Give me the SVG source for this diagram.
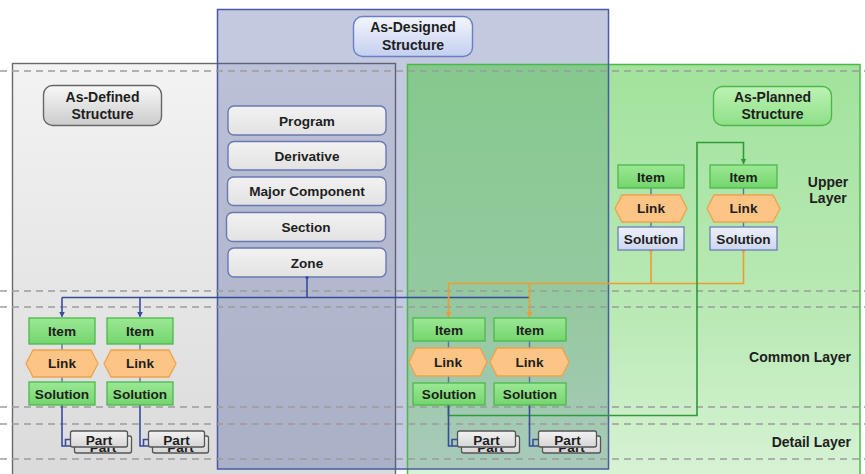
<svg xmlns="http://www.w3.org/2000/svg" width="865" height="474" viewBox="0 0 865 474">
  <defs>
    <linearGradient id="gPanelGray" x1="0" y1="0" x2="0" y2="1">
      <stop offset="0" stop-color="#f3f3f3"/>
      <stop offset="1" stop-color="#dadada"/>
    </linearGradient>
    <linearGradient id="gPanelGreen" x1="0" y1="0" x2="0" y2="1">
      <stop offset="0" stop-color="#4cc842" stop-opacity="0.52"/>
      <stop offset="0.6" stop-color="#52c947" stop-opacity="0.4"/>
      <stop offset="1" stop-color="#5ccc50" stop-opacity="0.24"/>
    </linearGradient>
    <linearGradient id="gTitleBlue" x1="0" y1="0" x2="0" y2="1">
      <stop offset="0" stop-color="#f4f6fd"/>
      <stop offset="1" stop-color="#c3cff0"/>
    </linearGradient>
    <linearGradient id="gTitleGray" x1="0" y1="0" x2="0" y2="1">
      <stop offset="0" stop-color="#f8f8f8"/>
      <stop offset="1" stop-color="#cbcbcb"/>
    </linearGradient>
    <linearGradient id="gTitleGreen" x1="0" y1="0" x2="0" y2="1">
      <stop offset="0" stop-color="#bdf2b5"/>
      <stop offset="1" stop-color="#8fdf87"/>
    </linearGradient>
    <linearGradient id="gItem" x1="0" y1="0" x2="0" y2="1">
      <stop offset="0" stop-color="#9be894"/>
      <stop offset="1" stop-color="#74d56c"/>
    </linearGradient>
    <linearGradient id="gSolBlue" x1="0" y1="0" x2="0" y2="1">
      <stop offset="0" stop-color="#eef1fb"/>
      <stop offset="1" stop-color="#cdd6f0"/>
    </linearGradient>
    <linearGradient id="gStack" x1="0" y1="0" x2="0" y2="1">
      <stop offset="0" stop-color="#f2f2f2"/>
      <stop offset="1" stop-color="#e2e2e2"/>
    </linearGradient>
    <linearGradient id="gPart" x1="0" y1="0" x2="0" y2="1">
      <stop offset="0" stop-color="#f2f2f2"/>
      <stop offset="1" stop-color="#d6d6d6"/>
    </linearGradient>
    <marker id="arrBlue" viewBox="0 0 6 6" refX="5" refY="3" markerWidth="6" markerHeight="6" orient="auto" markerUnits="userSpaceOnUse">
      <path d="M0,0 L6,3 L0,6 z" fill="#3a4a9c"/>
    </marker>
    <marker id="arrOrange" viewBox="0 0 6 6" refX="5" refY="3" markerWidth="6" markerHeight="6" orient="auto" markerUnits="userSpaceOnUse">
      <path d="M0,0 L6,3 L0,6 z" fill="#f29a2e"/>
    </marker>
    <marker id="arrGreen" viewBox="0 0 6 6" refX="5" refY="3" markerWidth="6" markerHeight="6" orient="auto" markerUnits="userSpaceOnUse">
      <path d="M0,0 L6,3 L0,6 z" fill="#2e9a3c"/>
    </marker>
    <clipPath id="clipBack1"><rect x="70" y="447.5" width="70" height="10"/></clipPath>
    <clipPath id="clipBack2"><rect x="148" y="447.5" width="70" height="10"/></clipPath>
    <clipPath id="clipBack3"><rect x="457" y="447.5" width="70" height="10"/></clipPath>
    <clipPath id="clipBack4"><rect x="538" y="447.5" width="70" height="10"/></clipPath>
    <style>
      text { font-family: "Liberation Sans", Arial, sans-serif; font-weight: bold; fill: #1e1e1e; text-anchor: middle; }
      .t13 { font-size: 13.6px; }
      .t14 { font-size: 14px; }
      .lyr { font-size: 14px; }
      .dash { stroke: #9c9c9c; stroke-width: 1.3; stroke-dasharray: 7 5; fill: none; }
      .item { fill: url(#gItem); stroke: #4cb84c; stroke-width: 1.3; }
      .sol { fill: url(#gItem); stroke: #4cb84c; stroke-width: 1.3; }
      .solb { fill: url(#gSolBlue); stroke: #6b7fb8; stroke-width: 1.3; }
      .link { fill: #fdc585; stroke: #f0a24c; stroke-width: 1.3; }
      .stack { fill: url(#gStack); stroke: #6b78b4; stroke-width: 1.4; }
      .part { fill: url(#gPart); stroke: #555; stroke-width: 1.3; }
      .col { stroke: #5a72aa; stroke-width: 1.4; fill: none; }
      .cBlue { stroke: #3a4a9c; stroke-width: 1.6; fill: none; }
      .cOrange { stroke: #f29a2e; stroke-width: 1.6; fill: none; }
      .cGreen { stroke: #2e9a3c; stroke-width: 1.6; fill: none; }
    </style>
  </defs>

  <rect width="865" height="474" fill="#ffffff"/>

  <!-- Structure panels -->
  <g id="panel-as-defined">
    <rect x="12.5" y="63.5" width="383" height="420" fill="url(#gPanelGray)" stroke="#6a6a6a" stroke-width="1.4"/>
  </g>
  <g id="panel-as-designed">
    <rect x="217.5" y="9.5" width="391" height="459.5" fill="#3c5096" fill-opacity="0.31"/>
  </g>
  <g id="panel-as-planned">
    <rect x="407.5" y="64.5" width="452.5" height="420" fill="url(#gPanelGreen)" stroke="#4cb84c" stroke-width="1.5"/>
  </g>
  <rect x="217.5" y="9.5" width="391" height="459.5" fill="none" stroke="#4a5aa6" stroke-width="1.5"/>

  <!-- Layer boundaries -->
  <g id="layer-lines">
    <line class="dash" x1="0" y1="71" x2="865" y2="71"/>
    <line class="dash" x1="0" y1="291" x2="865" y2="291"/>
    <line class="dash" x1="0" y1="307" x2="865" y2="307"/>
    <line class="dash" x1="0" y1="407" x2="865" y2="407"/>
    <line class="dash" x1="0" y1="424" x2="865" y2="424"/>
    <line class="dash" x1="0" y1="459" x2="865" y2="459"/>
  </g>

  <g id="layer-labels">
    <text class="lyr" x="828" y="187">Upper</text>
    <text class="lyr" x="828" y="203">Layer</text>
    <text class="lyr" x="851" y="362" style="text-anchor:end">Common Layer</text>
    <text class="lyr" x="851" y="447" style="text-anchor:end">Detail Layer</text>
  </g>

  <!-- Structure titles -->
  <g id="title-as-designed">
    <rect x="353.5" y="16.5" width="119" height="40" rx="9" fill="url(#gTitleBlue)" stroke="#6b7fc2" stroke-width="1.4"/>
    <text class="t14" x="413" y="32">As-Designed</text>
    <text class="t14" x="413" y="50">Structure</text>
  </g>
  <g id="title-as-defined">
    <rect x="43.5" y="85.5" width="118" height="40" rx="9" fill="url(#gTitleGray)" stroke="#666" stroke-width="1.4"/>
    <text class="t14" x="102.5" y="102">As-Defined</text>
    <text class="t14" x="102.5" y="119">Structure</text>
  </g>
  <g id="title-as-planned">
    <rect x="713.5" y="86.5" width="118" height="39" rx="9" fill="url(#gTitleGreen)" stroke="#4cb84c" stroke-width="1.4"/>
    <text class="t14" x="772.5" y="102">As-Planned</text>
    <text class="t14" x="772.5" y="119">Structure</text>
  </g>

  <!-- As-Designed hierarchy -->
  <g id="program"><rect class="stack" x="228" y="106" width="158" height="29" rx="6"/><text class="t13" x="307" y="125.5">Program</text></g>
  <g id="derivative"><rect class="stack" x="228" y="141.5" width="158" height="28.5" rx="6"/><text class="t13" x="307" y="160.5">Derivative</text></g>
  <g id="major-component"><rect class="stack" x="227.5" y="177" width="158.5" height="28.5" rx="6"/><text class="t13" x="307" y="196">Major Component</text></g>
  <g id="section"><rect class="stack" x="226.5" y="212.5" width="159" height="29" rx="6"/><text class="t13" x="306" y="231.5">Section</text></g>
  <g id="zone"><rect class="stack" x="228" y="248" width="158" height="29" rx="6"/><text class="t13" x="307" y="267.5">Zone</text></g>

  <!-- Connectors -->
  <g id="connectors">
    <!-- Zone to as-defined and as-planned common items -->
    <circle cx="307" cy="277.5" r="1.6" fill="#3a4a9c"/>
    <path class="cBlue" d="M307,278 V297.5"/>
    <path class="cBlue" d="M62,297.5 H529"/>
    <path class="cBlue" d="M62,297.5 V316.5" marker-end="url(#arrBlue)"/>
    <path class="cBlue" d="M140,297.5 V316.5" marker-end="url(#arrBlue)"/>
    <!-- Upper solutions to common items -->
    <circle cx="651" cy="250.5" r="1.8" fill="#f29a2e"/>
    <circle cx="743.5" cy="250.5" r="1.8" fill="#f29a2e"/>
    <path class="cOrange" d="M651,251 V283.5"/>
    <path class="cOrange" d="M743.5,251 V283.5 H448.5"/>
    <path class="cOrange" d="M448.5,283.5 V316.5" marker-end="url(#arrOrange)"/>
    <path class="cOrange" d="M529.5,283.5 V316.5" marker-end="url(#arrOrange)"/>
    <!-- Common solution back up to the upper item -->
    <circle cx="448.5" cy="405" r="1.8" fill="#2e9a3c"/>
    <path class="cGreen" d="M448.5,405 V415.5 H697 V142.5 H743.5 V163.5" marker-end="url(#arrGreen)"/>
    <!-- Solutions to parts -->
    <path class="cBlue" d="M62,405 V446 H71 M65.5,446 V439.5 H71"/>
    <path class="cBlue" d="M140,405 V446 H149 M143.5,446 V439.5 H149"/>
    <path class="cBlue" d="M448.5,405 V446 H458 M452,446 V439.5 H458"/>
    <path class="cBlue" d="M529.5,405 V446 H539 M533,446 V439.5 H539"/>
    <!-- Item / Link / Solution column ties -->
    <path class="col" d="M62,343 V382 M140,343 V382"/>
    <path class="col" d="M448.5,341 V383 M529.5,341 V383"/>
    <path class="col" d="M651,188 V227 M743.5,188 V227"/>
  </g>

  <!-- Upper layer (as-planned) -->
  <g id="up-item-1"><rect class="item" x="618" y="165" width="66" height="23"/><text class="t13" x="651" y="181.5">Item</text></g>
  <g id="up-link-1"><polygon class="link" points="615,208.5 622,195 680,195 687,208.5 680,222 622,222"/><text class="t13" x="651" y="213">Link</text></g>
  <g id="up-solution-1"><rect class="solb" x="618" y="227" width="66" height="23"/><text class="t13" x="651" y="243.5">Solution</text></g>
  <g id="up-item-2"><rect class="item" x="710" y="165" width="67" height="23"/><text class="t13" x="743.5" y="181.5">Item</text></g>
  <g id="up-link-2"><polygon class="link" points="707,208.5 714,195 773,195 780,208.5 773,222 714,222"/><text class="t13" x="743.5" y="213">Link</text></g>
  <g id="up-solution-2"><rect class="solb" x="710" y="227" width="67" height="23"/><text class="t13" x="743.5" y="243.5">Solution</text></g>

  <!-- Common layer (as-defined) -->
  <g id="def-item-1"><rect class="item" x="29" y="318" width="66" height="26"/><text class="t13" x="62" y="336">Item</text></g>
  <g id="def-link-1"><polygon class="link" points="26,363.5 33,350 91,350 98,363.5 91,377 33,377"/><text class="t13" x="62" y="368">Link</text></g>
  <g id="def-solution-1"><rect class="sol" x="29" y="382" width="66" height="23"/><text class="t13" x="62" y="398.5">Solution</text></g>
  <g id="def-item-2"><rect class="item" x="107" y="318" width="66" height="26"/><text class="t13" x="140" y="336">Item</text></g>
  <g id="def-link-2"><polygon class="link" points="104,363.5 111,350 169,350 176,363.5 169,377 111,377"/><text class="t13" x="140" y="368">Link</text></g>
  <g id="def-solution-2"><rect class="sol" x="107" y="382" width="66" height="23"/><text class="t13" x="140" y="398.5">Solution</text></g>

  <!-- Common layer (as-planned) -->
  <g id="pl-item-1"><rect class="item" x="413" y="318" width="72" height="23"/><text class="t13" x="449" y="334.5">Item</text></g>
  <g id="pl-link-1"><polygon class="link" points="409,362 416,348 480,348 487,362 480,376 416,376"/><text class="t13" x="448" y="366.5">Link</text></g>
  <g id="pl-solution-1"><rect class="sol" x="413" y="383" width="72" height="22"/><text class="t13" x="449" y="399">Solution</text></g>
  <g id="pl-item-2"><rect class="item" x="494" y="318" width="72" height="23"/><text class="t13" x="530" y="334.5">Item</text></g>
  <g id="pl-link-2"><polygon class="link" points="490,362 497,348 562,348 569,362 562,376 497,376"/><text class="t13" x="529.5" y="366.5">Link</text></g>
  <g id="pl-solution-2"><rect class="sol" x="494" y="383" width="72" height="22"/><text class="t13" x="530" y="399">Solution</text></g>

  <!-- Detail layer parts (stacked; the rear card's label shows only below the front card) -->
  <g id="part-1">
    <rect class="part" x="74.5" y="436" width="57" height="17" rx="2"/><text class="t13" x="103" y="452" clip-path="url(#clipBack1)">Part</text>
    <rect class="part" x="70.5" y="431" width="57" height="16" rx="2"/><text class="t13" x="99" y="444.5">Part</text>
  </g>
  <g id="part-2">
    <rect class="part" x="152.5" y="436" width="56" height="17" rx="2"/><text class="t13" x="180.5" y="452" clip-path="url(#clipBack2)">Part</text>
    <rect class="part" x="148.5" y="431" width="56" height="16" rx="2"/><text class="t13" x="176.5" y="444.5">Part</text>
  </g>
  <g id="part-3">
    <rect class="part" x="461.5" y="436" width="58" height="17" rx="2"/><text class="t13" x="490.5" y="452" clip-path="url(#clipBack3)">Part</text>
    <rect class="part" x="457.5" y="431" width="58" height="16" rx="2"/><text class="t13" x="486.5" y="444.5">Part</text>
  </g>
  <g id="part-4">
    <rect class="part" x="542.5" y="436" width="58" height="17" rx="2"/><text class="t13" x="571.5" y="452" clip-path="url(#clipBack4)">Part</text>
    <rect class="part" x="538.5" y="431" width="58" height="16" rx="2"/><text class="t13" x="567.5" y="444.5">Part</text>
  </g>
</svg>
